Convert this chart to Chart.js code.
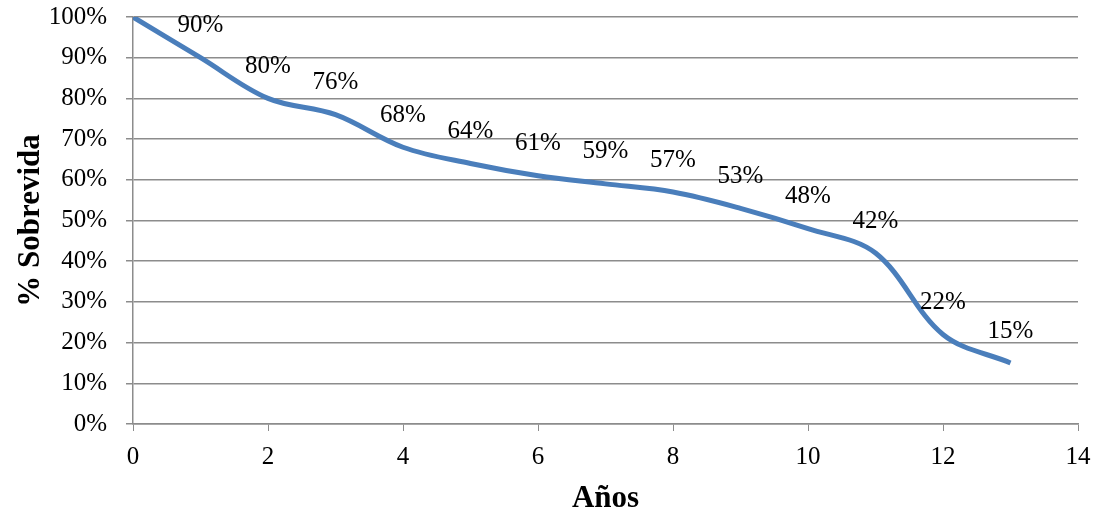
<!DOCTYPE html>
<html lang="es">
<head>
    <meta charset="UTF-8">
    <title>Sobrevida</title>
    <script src="https://cdn.jsdelivr.net/npm/chart.js"></script>
    <style>
        html, body { margin: 0; padding: 0; background: #fff; }
        .chart-wrapper { width: 1097px; height: 518px; }
    </style>
</head>
<body>
    <div class="chart-wrapper"><canvas id="chart"></canvas></div>

    <script>
        // datos
        const years = [0, 1, 2, 3, 4, 5, 6, 7, 8, 9, 10, 11, 12, 13];
        const survival = [100, 90, 80, 76, 68, 64, 61, 59, 57, 53, 48, 42, 22, 15];
        const xTicks = [0, 2, 4, 6, 8, 10, 12, 14];
        const yTicks = [0, 10, 20, 30, 40, 50, 60, 70, 80, 90, 100];

        const serif = "'Liberation Serif', 'Times New Roman', serif";
        const gridColor = '#8c8c8c';

        // etiquetas encima de cada punto (menos el primero)
        const pointLabels = {
            id: 'pointLabels',
            afterDatasetsDraw(chart) {
                const ctx = chart.ctx;
                const meta = chart.getDatasetMeta(0);
                ctx.save();
                ctx.font = '25px ' + serif;
                ctx.fillStyle = '#000';
                ctx.textAlign = 'center';
                ctx.textBaseline = 'middle';
                meta.data.forEach((pt, i) => {
                    if (i === 0) return;
                    ctx.fillText(survival[i] + '%', pt.x, pt.y - 32);
                });
                ctx.restore();
            }
        };

        new Chart(document.getElementById('chart'), {
            type: 'line',
            data: {
                datasets: [{
                    data: years.map((x, i) => ({ x: x, y: survival[i] })),
                    borderColor: '#4a7ebb',
                    borderWidth: 5,
                    pointRadius: 0,
                    tension: 0.35,
                    fill: false
                }]
            },
            options: {
                responsive: true,
                maintainAspectRatio: false,
                animation: false,
                layout: { padding: { top: 17, right: 19, left: 0, bottom: 0 } },
                plugins: { legend: { display: false }, tooltip: { enabled: false } },
                scales: {
                    x: {
                        type: 'linear',
                        min: 0,
                        max: 14,
                        afterBuildTicks: s => { s.ticks = xTicks.map(v => ({ value: v })); },
                        afterFit: s => { s.height = 94; s.paddingLeft = 0; s.paddingRight = 0; },
                        grid: { drawOnChartArea: false, color: gridColor, tickLength: 7 },
                        border: { color: gridColor, width: 1.5 },
                        ticks: { color: '#000', font: { family: serif, size: 25 }, padding: 11, maxRotation: 0 },
                        title: {
                            display: true, text: 'Años', color: '#000',
                            font: { family: serif, size: 31, weight: 'bold' },
                            padding: { top: 0, bottom: 0 }
                        }
                    },
                    y: {
                        min: 0,
                        max: 100,
                        afterBuildTicks: s => { s.ticks = yTicks.map(v => ({ value: v })); },
                        afterFit: s => { s.width = 133; s.paddingTop = 0; s.paddingBottom = 0; },
                        grid: { color: gridColor, lineWidth: 1.5, tickLength: 7 },
                        border: { color: gridColor, width: 1.5 },
                        ticks: { color: '#000', font: { family: serif, size: 25 }, padding: 19, callback: v => v + '%' },
                        title: {
                            display: true, text: '% Sobrevida', color: '#000',
                            font: { family: serif, size: 31, weight: 'bold' },
                            padding: { top: 12, bottom: 0 }
                        }
                    }
                }
            },
            plugins: [pointLabels]
        });
    </script>
</body>
</html>
